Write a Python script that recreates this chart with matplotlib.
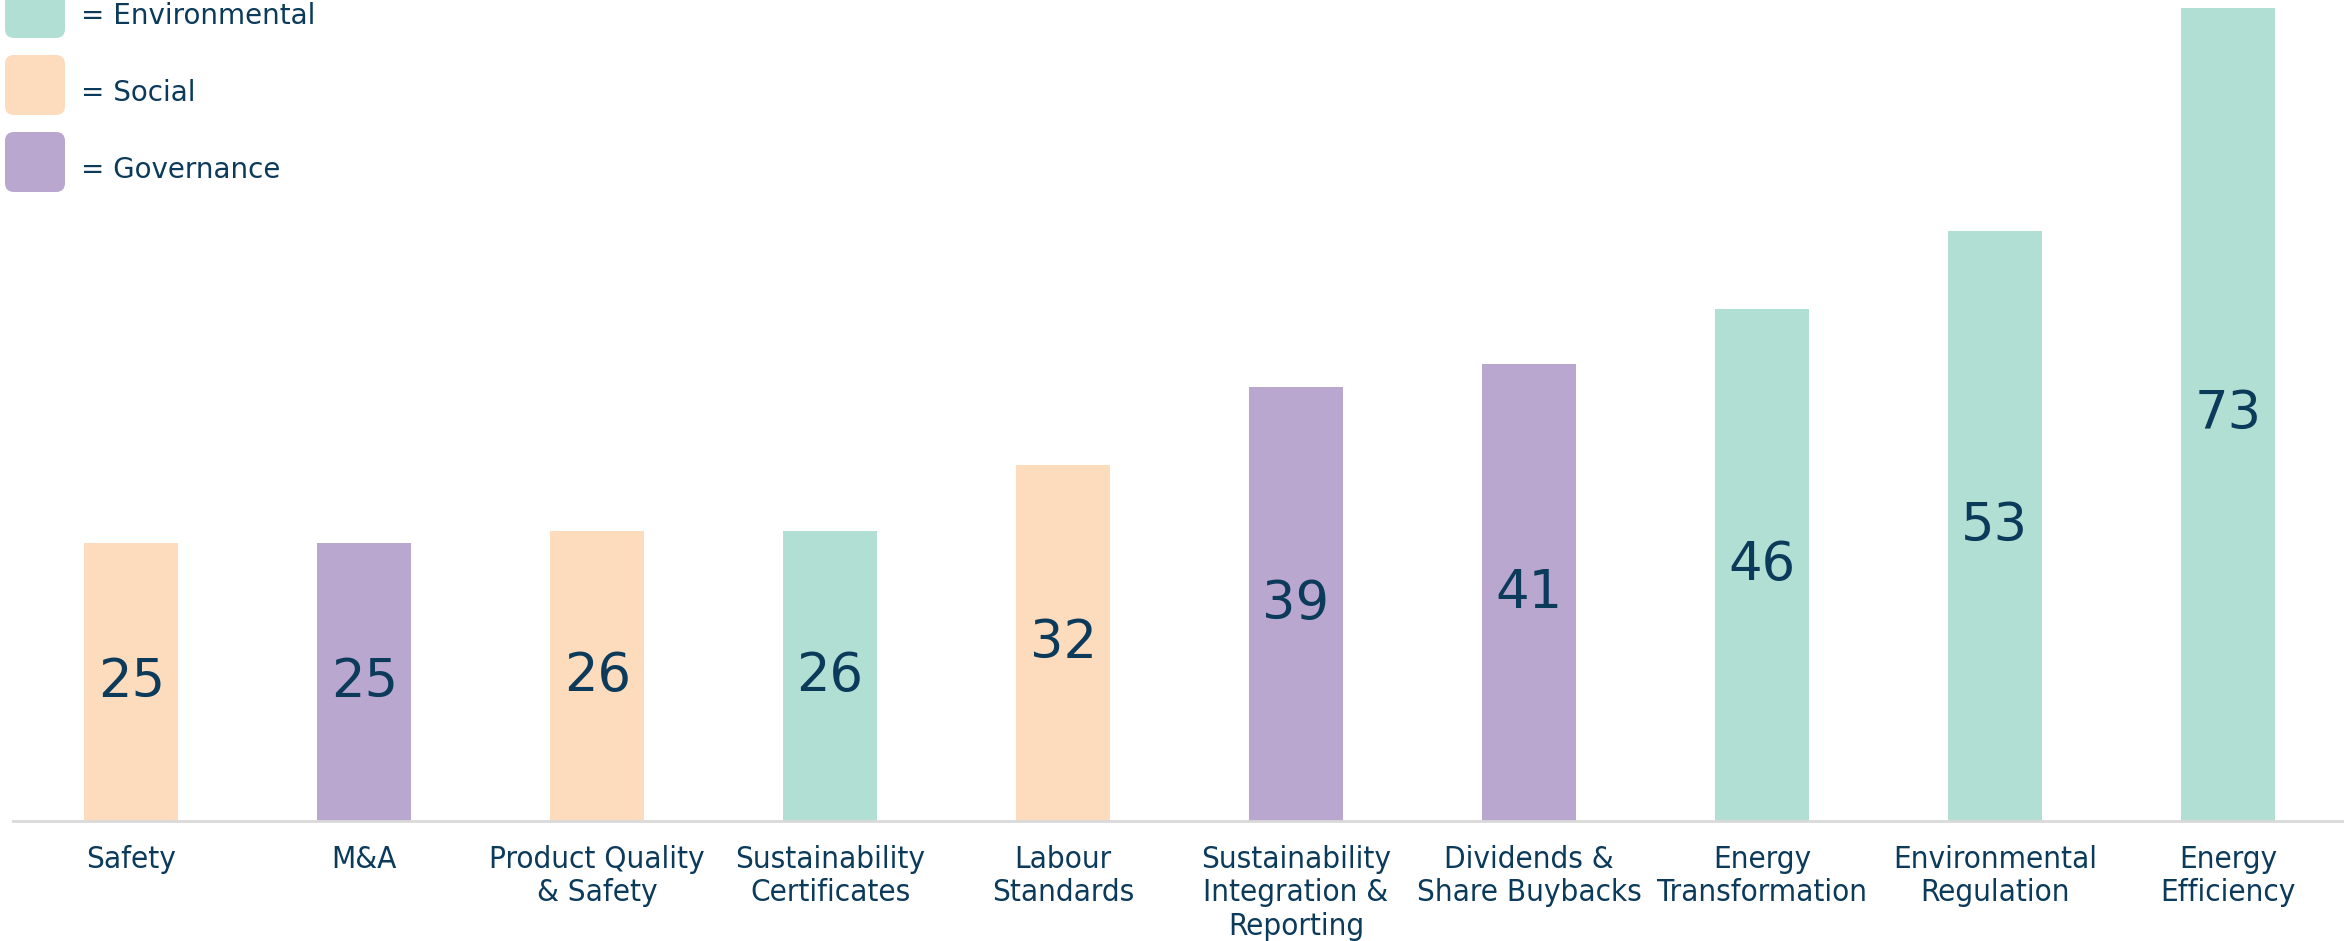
import matplotlib
matplotlib.use("Agg")
import matplotlib.pyplot as plt
from matplotlib.patches import FancyBboxPatch

# ESG topics and how often each was raised
topics = ["Safety", "M&A", "Product Quality\n& Safety", "Sustainability\nCertificates",
          "Labour\nStandards", "Sustainability\nIntegration &\nReporting",
          "Dividends &\nShare Buybacks", "Energy\nTransformation",
          "Environmental\nRegulation", "Energy\nEfficiency"]
counts = [25, 25, 26, 26, 32, 39, 41, 46, 53, 73]
pillar = ["S", "G", "S", "E", "S", "G", "G", "E", "E", "E"]

pillar_names = ["Environmental", "Social", "Governance"]
pillar_keys = ["E", "S", "G"]
pillar_colors = {"E": "#b2dfd4", "S": "#fddcbe", "G": "#b9a7d0"}

navy = "#0b3a5b"

W, H = 2351, 941
fig = plt.figure(figsize=(W / 100, H / 100), dpi=100)
ax = fig.add_axes([12.5 / W, (H - 821) / H, (2342 - 12.5) / W, 821 / H])

x = list(range(len(topics)))
bars = ax.bar(x, counts, width=0.403, color=[pillar_colors[p] for p in pillar])

for b, v in zip(bars, counts):
    ax.text(b.get_x() + b.get_width() / 2, v / 2, str(v), ha="center", va="center",
            fontsize=38, color=navy, family="DejaVu Sans")

ax.set_xlim(-0.51, 9.49)
ax.set_ylim(0, 73.7)
ax.set_xticks(x)
ax.set_xticklabels(topics, fontsize=22.5, color=navy, family="DejaVu Sans",
                   fontstretch="condensed", linespacing=1.2)
ax.tick_params(axis="x", length=0, pad=17)
ax.set_yticks([])
for s in ["top", "right", "left"]:
    ax.spines[s].set_visible(False)
ax.spines["bottom"].set_color("#d9d9d9")
ax.spines["bottom"].set_linewidth(2)

# legend drawn as rounded swatches in pixel space
leg = fig.add_axes([0, 0, 1, 1])
leg.set_xlim(0, W)
leg.set_ylim(H, 0)
leg.axis("off")
for i, (k, name) in enumerate(zip(pillar_keys, pillar_names)):
    top = -22 + i * 77
    leg.add_patch(FancyBboxPatch((5, top), 60, 60, boxstyle="round,pad=0,rounding_size=9",
                                 facecolor=pillar_colors[k], edgecolor="none"))
    leg.text(81, top + 38, "= " + name, ha="left", va="center", fontsize=20,
             color=navy, family="DejaVu Sans")

fig.savefig("out.png", dpi=100)
